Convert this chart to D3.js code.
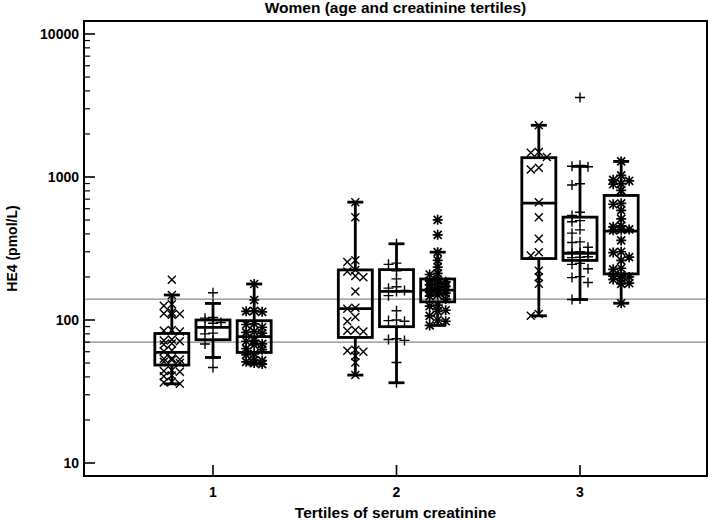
<!DOCTYPE html>
<html><head><meta charset="utf-8">
<script src="https://cdn.jsdelivr.net/npm/d3@7"></script>
<style>body{margin:0;background:#fff}svg{display:block}text{font-family:"Liberation Sans",Arial,sans-serif;font-weight:bold;fill:#000}</style>
</head><body><svg id="c" width="709" height="520"></svg>
<script>
const title = "Women (age and creatinine tertiles)";
const xTitle = "Tertiles of serum creatinine";
const yTitle = "HE4 (pmol/L)";
const tertiles = [1, 2, 3];
const ageTertiles = ["cross", "plus", "star"];
const yTicks = [10, 100, 1000, 10000];
const refLines = [140, 70];

// box statistics, order: creatinine tertile 1 (age 1,2,3), tertile 2, tertile 3
const whiskLow  = [35.8, 54.7, 49.2,  41.2, 36.4, 91.6,  107, 139, 131];
const q1        = [48.4, 72.8, 59.3,  75.5, 89.8, 134,   269, 261, 210];
const median    = [59.3, 88.7, 76.4,  120, 158.6, 162,   656, 293, 418];
const q3        = [80.5, 100, 98.9,   224, 225, 193.6,   1365, 524, 743];
const whiskHigh = [149.6, 130.6, 178.6, 667, 341, 298,   2300, 1186, 1285];

const pts_1_1 = [191, 149.6, 129, 126, 113, 111, 110, 109, 85, 84, 83, 73, 72, 71, 68.5, 67.5, 61.5, 60.5, 54, 53.5, 53, 52.5, 51, 50, 44.5, 44, 43.5, 41, 40.5, 37, 36.5, 35.8];
const pts_1_2 = [155, 130.6, 104, 103, 96, 95, 89, 81, 80, 72, 68, 54.7, 46.5];
const pts_1_3 = [178.6, 138, 116, 115, 114, 94, 93, 89, 83, 82, 81, 72, 71, 68, 67, 63, 62, 58, 57, 52.5, 52, 51, 50, 49.2];
const pts_2_1 = [667, 524, 262, 254, 224, 218, 203, 199, 158, 122, 120, 105, 98, 85, 84, 83, 62, 61, 60, 56, 50.5, 41.2];
const pts_2_2 = [341, 250, 245, 221, 194, 171, 167, 161, 158, 148, 116, 100, 99, 98, 74, 73, 72, 50.5, 36.4];
const pts_2_3 = [502, 394, 298, 261, 234, 212, 208, 192, 188, 185, 180, 176, 172, 168, 165, 162, 160, 157, 154, 150, 147, 140, 127, 125, 117, 115, 107, 100, 98, 91.6];
const pts_3_1 = [2300, 1493, 1480, 1378, 1160, 1130, 667, 524, 370, 298, 282, 221, 199, 179, 110, 107];
const pts_3_2 = [3600, 1206, 1190, 1180, 897, 880, 567, 538, 495, 487, 427, 405, 352, 348, 323, 300, 298, 297, 296, 295, 277, 275, 273, 249, 245, 228, 201, 198, 183, 140, 139];
const pts_3_3 = [1285, 1026, 955, 940, 900, 890, 806, 655, 645, 584, 510, 455, 448, 430, 427, 424, 360, 300, 296, 275, 261, 230, 226, 206, 203, 200, 195, 192, 181, 179, 131];
const points = [pts_1_1, pts_1_2, pts_1_3, pts_2_1, pts_2_2, pts_2_3, pts_3_1, pts_3_2, pts_3_3];

const svg = d3.select("#c");
const L = 84, R = 707, T = 21, B = 476;
const x = d3.scaleLinear().domain([1, 3]).range([213, 580]);
const y = d3.scaleLog().domain([10, 10000]).range([463, 34]);
const sub = d3.scaleBand().domain(ageTertiles).range([-70, 70]).padding(0.4);
const boxW = 34, capW = 14;

// reference lines
svg.selectAll(".ref").data(refLines).join("line")
  .attr("x1", L).attr("x2", R).attr("y1", d => y(d)).attr("y2", d => y(d))
  .attr("stroke", "#8a8a8a").attr("stroke-width", 1.2);

// boxes
const boxes = [];
tertiles.forEach((t, i) => ageTertiles.forEach((a, j) => {
  const k = i * 3 + j;
  boxes.push({t, a, k, cx: x(t) + sub(a) + sub.bandwidth() / 2});
}));

const gB = svg.append("g").attr("stroke", "#000").attr("stroke-width", 2.8).attr("fill", "none");
boxes.forEach(b => {
  const k = b.k;
  gB.append("line").attr("x1", b.cx).attr("x2", b.cx).attr("y1", y(whiskHigh[k])).attr("y2", y(q3[k]));
  gB.append("line").attr("x1", b.cx).attr("x2", b.cx).attr("y1", y(q1[k])).attr("y2", y(whiskLow[k]));
  gB.append("line").attr("x1", b.cx - capW / 2 - 1).attr("x2", b.cx + capW / 2 + 1).attr("y1", y(whiskHigh[k])).attr("y2", y(whiskHigh[k]));
  gB.append("line").attr("x1", b.cx - capW / 2 - 1).attr("x2", b.cx + capW / 2 + 1).attr("y1", y(whiskLow[k])).attr("y2", y(whiskLow[k]));
  gB.append("rect").attr("x", b.cx - boxW / 2).attr("width", boxW).attr("y", y(q3[k])).attr("height", y(q1[k]) - y(q3[k]));
  gB.append("line").attr("x1", b.cx - boxW / 2).attr("x2", b.cx + boxW / 2).attr("y1", y(median[k])).attr("y2", y(median[k]));
});

// points, swarm placed in three narrow columns
const offs = [0, -8, 8];
const gP = svg.append("g").attr("stroke", "#000").attr("stroke-width", 1.4).attr("fill", "none");
boxes.forEach(b => {
  const vals = points[b.k].slice().sort((p, q) => q - p);
  const placed = [];
  vals.forEach(v => {
    const py = y(v);
    let best = offs[0], bestGap = -1;
    for (const o of offs) {
      const cand = b.cx + o;
      const near = placed.filter(p => Math.abs(p[0] - cand) < 4);
      const gap = near.length ? d3.min(near, p => Math.abs(p[1] - py)) : 99;
      if (gap >= 6) { best = o; bestGap = gap; break; }
      if (gap > bestGap) { best = o; bestGap = gap; }
    }
    const px = b.cx + best;
    placed.push([px, py]);
    const s = 4;
    let path;
    if (b.a === "cross") path = `M${px - s},${py - s}L${px + s},${py + s}M${px - s},${py + s}L${px + s},${py - s}`;
    else if (b.a === "plus") path = `M${px - 5},${py}L${px + 5},${py}M${px},${py - 5}L${px},${py + 5}`;
    else path = `M${px - s},${py - s}L${px + s},${py + s}M${px - s},${py + s}L${px + s},${py - s}M${px - 5},${py}L${px + 5},${py}M${px},${py - 5}L${px},${py + 5}`;
    gP.append("path").attr("d", path).attr("stroke-width", b.a === "star" ? 1.7 : 1.4);
  });
});

// frame
svg.append("rect").attr("x", L).attr("y", T).attr("width", R - L).attr("height", B - T)
  .attr("fill", "none").attr("stroke", "#000").attr("stroke-width", 2);

// y ticks (inward)
const minor = [];
yTicks.slice(0, -1).forEach(d => { for (let m = 2; m <= 9; m++) minor.push(d * m); });
svg.selectAll(".ymin").data(minor).join("line")
  .attr("x1", L).attr("x2", L + 6).attr("y1", d => y(d)).attr("y2", d => y(d))
  .attr("stroke", "#000").attr("stroke-width", 1.2);
svg.selectAll(".ymaj").data(yTicks).join("line")
  .attr("x1", L).attr("x2", L + 11).attr("y1", d => y(d)).attr("y2", d => y(d))
  .attr("stroke", "#000").attr("stroke-width", 1.6);
svg.selectAll(".ylab").data(yTicks).join("text")
  .attr("x", L - 5).attr("y", d => y(d)).attr("dy", "0.36em").attr("text-anchor", "end")
  .attr("font-size", 14).text(d => d);

// x ticks
svg.selectAll(".xt").data(tertiles).join("line")
  .attr("x1", d => x(d)).attr("x2", d => x(d)).attr("y1", B).attr("y2", B - 11)
  .attr("stroke", "#000").attr("stroke-width", 1.6);
svg.selectAll(".xlab").data(tertiles).join("text")
  .attr("x", d => x(d)).attr("y", 497).attr("text-anchor", "middle")
  .attr("font-size", 14).text(d => d);

svg.append("text").attr("x", (L + R) / 2).attr("y", 13).attr("text-anchor", "middle").attr("font-size", 15.5).text(title);
svg.append("text").attr("x", (L + R) / 2).attr("y", 518).attr("text-anchor", "middle").attr("font-size", 15.5).text(xTitle);
svg.append("text").attr("transform", `translate(17,${(T + B) / 2}) rotate(-90)`).attr("text-anchor", "middle").attr("font-size", 14).text(yTitle);
</script></body></html>
